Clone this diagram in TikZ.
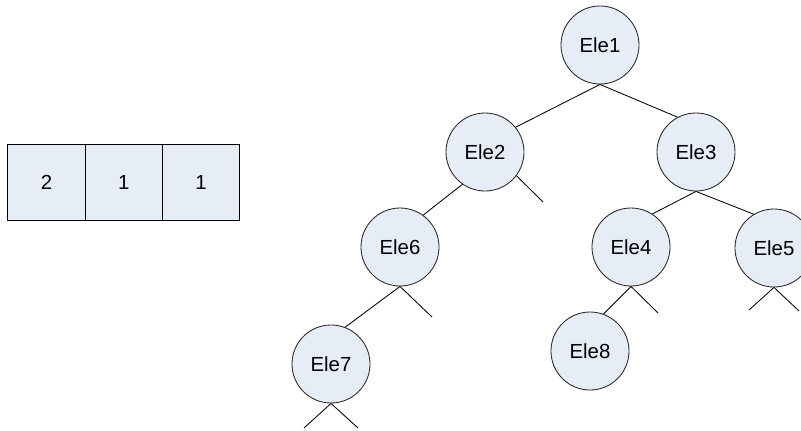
\documentclass[tikz,border=0pt]{standalone}
\usepackage{fontspec}
\setmainfont{Liberation Sans}
\usetikzlibrary{positioning}
\definecolor{elefill}{RGB}{231,237,247}
\tikzset{
  ele/.style={circle, draw=black!85, fill=elefill, minimum size=1.95cm, inner sep=0pt, font=\fontsize{14.5}{17}\selectfont},
  cell/.style={rectangle, draw, fill=elefill, minimum width=1.93cm, minimum height=1.9cm, outer sep=0pt, font=\fontsize{14.5}{17}\selectfont}
}
\begin{document}
\begin{tikzpicture}[x=0.025cm, y=-0.025cm, line width=0.6pt]
        \useasboundingbox (0,0) rectangle (801,430);
        % counters
        \node [cell] (c1) at (46.5,182) {2};
        \node [cell, right=0pt of c1] (c2) {1};
        \node [cell, right=0pt of c2] (c3) {1};
        % tree
        \node [ele] (e1) at (600,45) {Ele1};
        \node [ele] (e2) at (485,152) {Ele2};
        \node [ele] (e3) at (696,152) {Ele3};
        \node [ele] (e6) at (400,247) {Ele6};
        \node [ele] (e4) at (631,247) {Ele4};
        \node [ele] (e5) at (774,248) {Ele5};
        \node [ele] (e7) at (331,364) {Ele7};
        \node [ele] (e8) at (590,351) {Ele8};
        \coordinate (s2) at (543,202);
        \coordinate (s6) at (432,317);
        \coordinate (s4) at (658,313);
        \coordinate (s5a) at (749,310);
        \coordinate (s5b) at (799,311);
        \coordinate (s7a) at (304,428);
        \coordinate (s7b) at (358,428);
        \draw (e1.south) -- (e2.39);
        \draw (e1.south) -- (e3.118);
        \draw (e2.-125) -- (e6.54);
        \draw (e2.-37) -- (s2);
        \draw (e3.south) -- (e4.57);
        \draw (e3.south) -- (e5.121);
        \draw (e6.south) -- (e7.69);
        \draw (e6.south) -- (s6);
        \draw (e4.south) -- (e8.70);
        \draw (e4.south) -- (s4);
        \draw (s5a) -- (e5.south) -- (s5b);
        \draw (s7a) -- (e7.south) -- (s7b);
\end{tikzpicture}
\end{document}
